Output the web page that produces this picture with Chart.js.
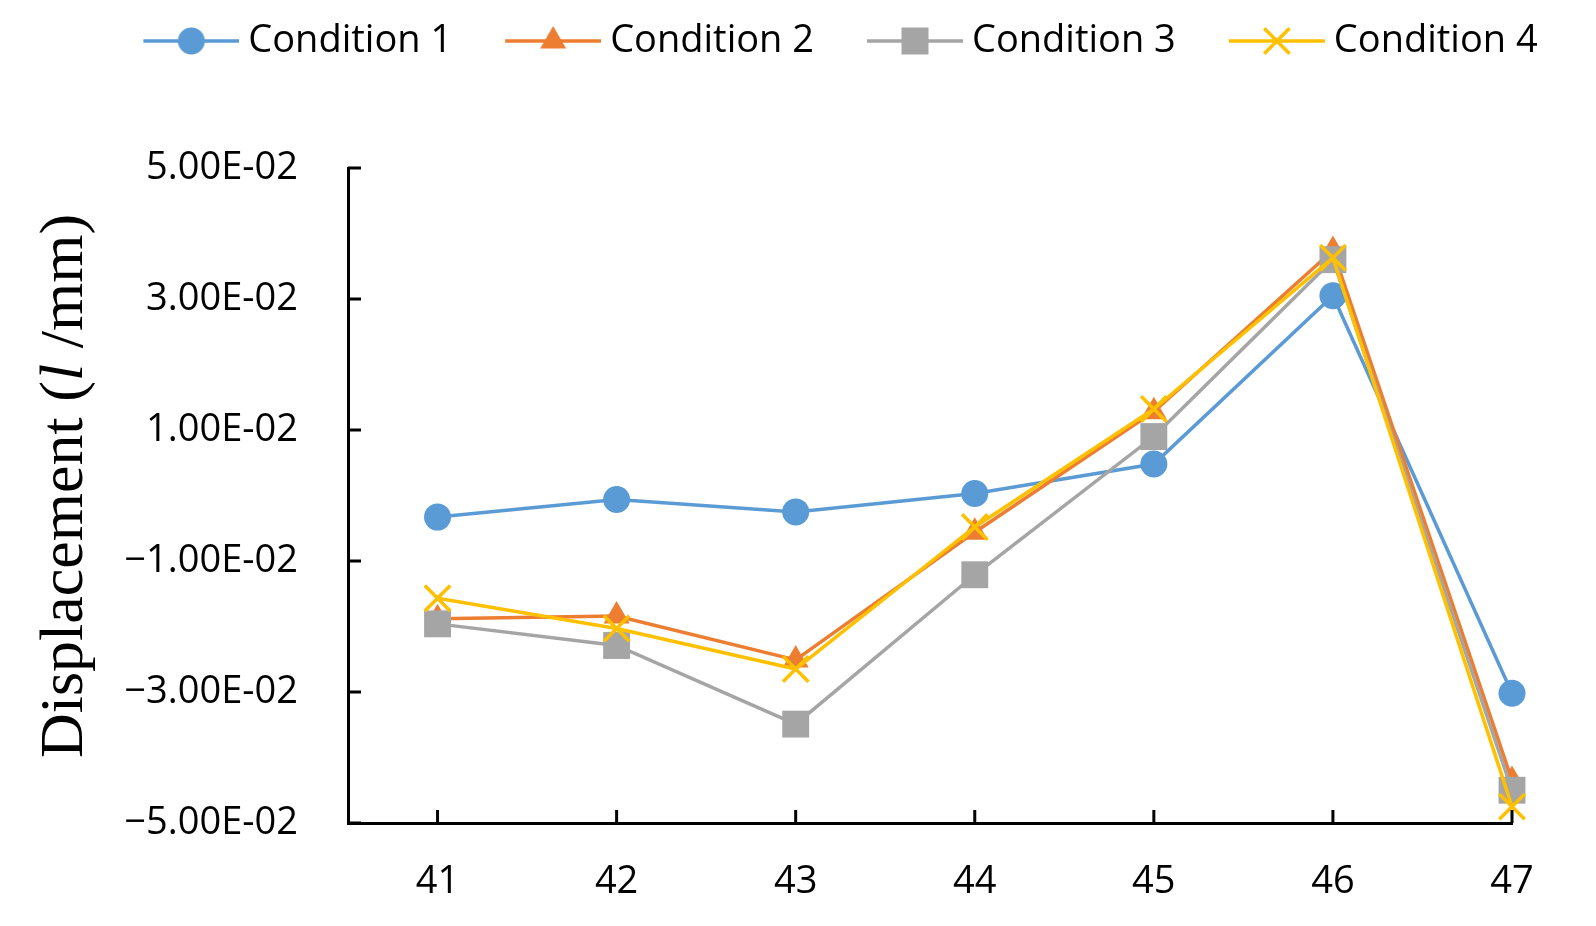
<!DOCTYPE html>
<html>
<head>
<meta charset="utf-8">
<script src="https://cdn.jsdelivr.net/npm/chart.js@4.4.0/dist/chart.umd.min.js"></script>
<style>
  html, body { margin: 0; padding: 0; background: #fff; }
  #wrap { width: 1596px; height: 926px; position: relative; }
</style>
</head>
<body>
<div id="wrap"><canvas id="dispChart"></canvas></div>
<script>
// values
const locations = [41, 42, 43, 44, 45, 46, 47];
const condition1 = [-0.0033, -0.0006, -0.0025, 0.0003, 0.0048, 0.0305, -0.0302];
const condition2 = [-0.0188, -0.0184, -0.0251, -0.0056, 0.0128, 0.0374, -0.0435];
const condition3 = [-0.0196, -0.0229, -0.0349, -0.0121, 0.0090, 0.0360, -0.0450];
const condition4 = [-0.0157, -0.0203, -0.0265, -0.0048, 0.0132, 0.0363, -0.0475];
const seriesNames = ['Condition 1', 'Condition 2', 'Condition 3', 'Condition 4'];
const yTicks = [-0.05, -0.03, -0.01, 0.01, 0.03, 0.05];

const colors = ['#5B9BD5', '#ED7D31', '#A5A5A5', '#FFC000'];
const styles = ['circle', 'triangle', 'rect', 'crossRot'];
const radii = [13.5, 15, 19, 18];
const FONT = '"Open Sans", sans-serif';
const LINE_W = 3.5;

// Excel-like scientific labels, e.g. 5.00E-02
function sci(v) {
  if (Math.abs(v) < 1e-12) return '0.00E+00';
  const parts = Math.abs(v).toExponential(2).split('e');
  const e = parseInt(parts[1], 10);
  const exp = (e < 0 ? '-' : '+') + String(Math.abs(e)).padStart(2, '0');
  return (v < 0 ? '\u2212' : '') + parts[0] + 'E' + exp;
}

// legend icon: short line with the marker on it
function legendIcon(style, color) {
  const c = document.createElement('canvas');
  c.width = 139; c.height = 34;
  const g = c.getContext('2d');
  const x0 = 43, x1 = 139, cx = (x0 + x1) / 2, cy = 17;
  g.strokeStyle = color; g.fillStyle = color; g.lineWidth = LINE_W;
  g.beginPath(); g.moveTo(x0, cy); g.lineTo(x1, cy); g.stroke();
  g.beginPath();
  if (style === 'circle') {
    g.arc(cx, cy, 13.5, 0, Math.PI * 2); g.fill();
  } else if (style === 'triangle') {
    g.moveTo(cx, cy - 15); g.lineTo(cx + 13, cy + 7.5); g.lineTo(cx - 13, cy + 7.5); g.closePath(); g.fill();
  } else if (style === 'rect') {
    g.rect(cx - 13.5, cy - 13.5, 27, 27); g.fill();
  } else {
    g.moveTo(cx - 12.7, cy - 12.7); g.lineTo(cx + 12.7, cy + 12.7);
    g.moveTo(cx + 12.7, cy - 12.7); g.lineTo(cx - 12.7, cy + 12.7); g.stroke();
  }
  return c;
}
const icons = styles.map((s, i) => legendIcon(s, colors[i]));

// tick marks pointing into the plot, like the original
const innerTicks = {
  id: 'innerTicks',
  afterDraw(chart) {
    const {ctx, scales: {x, y}} = chart;
    ctx.save();
    ctx.strokeStyle = '#000';
    ctx.lineWidth = 3;
    ctx.beginPath();
    locations.forEach(v => {
      const px = x.getPixelForValue(v);
      ctx.moveTo(px, y.bottom); ctx.lineTo(px, y.bottom - 13);
    });
    yTicks.forEach(v => {
      const py = y.getPixelForValue(v);
      ctx.moveTo(x.left, py); ctx.lineTo(x.left + 13, py);
    });
    ctx.stroke();
    ctx.restore();
  }
};

// y-axis title with italic "l"
const yTitle = {
  id: 'yTitle',
  afterDraw(chart) {
    const ctx = chart.ctx;
    const parts = [['Displacement (', ''], ['l', 'italic '], [' /mm)', '']];
    const size = 62;
    ctx.save();
    ctx.translate(66, 486);
    ctx.rotate(-Math.PI / 2);
    ctx.fillStyle = '#000';
    ctx.textBaseline = 'middle';
    let total = 0;
    parts.forEach(p => { ctx.font = p[1] + size + 'px "Liberation Serif"'; total += ctx.measureText(p[0]).width; });
    let cx = -total / 2;
    parts.forEach(p => {
      ctx.font = p[1] + size + 'px "Liberation Serif"';
      ctx.fillText(p[0], cx, 0);
      cx += ctx.measureText(p[0]).width;
    });
    ctx.restore();
  }
};

const series = [condition1, condition2, condition3, condition4];
const ctx = document.getElementById('dispChart').getContext('2d');
const dispChart = new Chart(ctx, {
  type: 'line',
  data: {
    datasets: series.map((vals, i) => ({
      label: seriesNames[i],
      data: locations.map((loc, j) => ({x: loc, y: vals[j]})),
      borderColor: colors[i],
      backgroundColor: colors[i],
      borderWidth: LINE_W,
      pointStyle: styles[i],
      pointRadius: radii[i],
      pointBorderWidth: styles[i] === 'crossRot' ? LINE_W : 0,
      pointBackgroundColor: colors[i],
      pointBorderColor: colors[i],
      tension: 0,
      clip: false,
      order: 4 - i
    }))
  },
  options: {
    responsive: true,
    maintainAspectRatio: false,
    animation: false,
    layout: { padding: { left: 52, right: 0, top: 2, bottom: 0 } },
    plugins: {
      tooltip: { enabled: false },
      title: { display: true, text: '', weight: 500, font: { size: 10 }, padding: { top: 86, bottom: 0 } },
      legend: {
        position: 'top',
        labels: {
          usePointStyle: true,
          pointStyleWidth: 119,
          padding: 20,
          color: '#000',
          font: { family: FONT, size: 38 },
          generateLabels: chart => chart.data.datasets.map((ds, i) => ({
            text: ds.label,
            pointStyle: icons[i],
            fillStyle: colors[i],
            strokeStyle: colors[i],
            lineWidth: 0,
            hidden: false,
            datasetIndex: i,
            fontColor: '#000'
          }))
        }
      }
    },
    scales: {
      x: {
        type: 'linear',
        min: 40.5,
        max: 47,
        grid: { display: false },
        border: { display: true, color: '#000', width: 3 },
        ticks: { color: '#000', font: { family: FONT, size: 38 }, padding: 28, callback: v => String(v) },
        afterBuildTicks: s => { s.ticks = locations.map(v => ({ value: v })); },
        afterFit: s => { s.height = 103; s.paddingRight = 84; }
      },
      y: {
        min: -0.05,
        max: 0.05,
        grid: { display: false },
        border: { display: true, color: '#000', width: 3 },
        ticks: { color: '#000', font: { family: FONT, size: 38 }, padding: 42, callback: v => sci(v) },
        afterBuildTicks: s => { s.ticks = yTicks.map(v => ({ value: v })); },
        afterFit: s => { s.width = 296; }
      }
    }
  },
  plugins: [innerTicks, yTitle]
});
</script>
</body>
</html>
